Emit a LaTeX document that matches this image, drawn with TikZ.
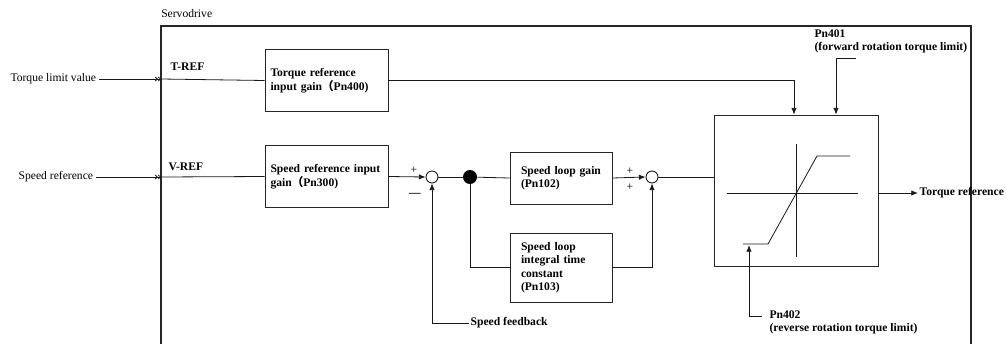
\documentclass[tikz,border=0pt]{standalone}
\usepackage{fontspec}
\setmainfont{Liberation Serif}
\newfontfamily\cjk{Noto Sans CJK SC}
\usetikzlibrary{arrows.meta,calc}

\begin{document}
\begin{tikzpicture}[
        x=0.75pt, y=-0.75pt,
        font=\fontsize{8.7}{10.1}\selectfont,
        box/.style={
            draw=black!85,
            line width=0.6pt,
            align=left,
            font=\fontsize{8.7}{10.1}\selectfont\bfseries
        },
        widebox/.style={box, text width=84pt, inner xsep=4.1pt, minimum height=46pt},
        narrowbox/.style={box, text width=60pt, inner xsep=8.25pt},
        sum/.style={draw, circle, minimum size=9pt, inner sep=0pt, line width=0.6pt},
        tag/.style={font=\fontsize{8.7}{10.1}\selectfont\bfseries, inner sep=1pt},
        link/.style={line width=0.6pt, black!90},
        arrow/.style={link, -{Latex[length=5pt,width=4pt]}},
        entry/.style={link, -{Straight Barb[length=1.6pt,width=3pt]Straight Barb[length=1.6pt,width=3pt]}},
        frame/.style={line width=1.1pt, black!85}
    ]

    \useasboundingbox (0,0) rectangle (1006,343);

    % servodrive frame
    \node[anchor=west, inner sep=0pt] (servo) at (161,14) {Servodrive};
    \draw[frame] (161,360) -- (161,26) -- (971,26) -- (971,360);

    % torque limit path
    \node[anchor=east, inner sep=2pt] (tlim) at (99,79) {Torque limit value};
    \coordinate (tin) at (161,79);
    \node[tag, anchor=west] (tref) at (169,67) {T-REF};
    \node[widebox] (tgain) at (326.5,80.5) {Torque reference\\input gain{\cjk （}Pn400)};

    % speed reference path
    \node[anchor=east, inner sep=2pt] (sin) at (96,177) {Speed reference};
    \coordinate (vin) at (161,177);
    \node[tag, anchor=west] (vref) at (167,167) {V-REF};
    \node[widebox] (sgain) at (326.5,176.5) {Speed reference input\\gain{\cjk （}Pn300)};

    \node[sum] (sum1) at (432,177) {};
    \node[inner sep=0pt] (plus1) at (414,170) {+};
    \node[tag] (minus1) at (415,195) {—};
    \node[circle, fill=black, minimum size=10.5pt, inner sep=0pt] (split) at (470,177) {};

    \node[narrowbox, minimum height=39pt] (kp) at (561,178) {Speed loop gain\\(Pn102)};
    \node[narrowbox, minimum height=51.75pt] (ki) at (561,267.5) {Speed loop\\integral time\\constant\\(Pn103)};

    \node[sum] (sum2) at (652,177) {};
    \node[inner sep=0pt] (plus2) at (630,171) {+};
    \node[inner sep=0pt] (plus3) at (630,187) {+};

    % torque limiter
    \node[draw=black!85, line width=0.6pt, minimum width=123pt, minimum height=113.25pt, inner sep=0pt] (lim) at (796,190.5) {};
    \draw[link] (796,144) -- (796,257);
    \draw[link] (727,193) -- (858,193);
    \draw[link] (743,244) -- (768,244) -- (817,156) -- (850,156);

    \node[tag, anchor=west, align=left] (fwd) at (813,41.5) {Pn401\\(forward rotation torque limit)};
    \coordinate (p401) at (856,58);
    \node[tag, anchor=west, align=left] (rev) at (768,322.5) {Pn402\\(reverse rotation torque limit)};
    \coordinate (p402) at (762,316);
    \coordinate (lowsat) at (749,245);

    \node[tag, anchor=west] (fb) at (469,323) {Speed feedback};
    \node[tag, anchor=west] (tout) at (918,193) {Torque reference};

    % connectors
    \draw[entry] (tlim.east) -- (tin);
    \draw[link] (tin) -- (tgain.west);
    \draw[entry] (sin.east) -- (vin);
    \draw[link] (vin) -- (sgain.west);

    \draw[arrow] (tgain.east) -| ([xshift=-1.5pt]lim.north);
    \draw[arrow] (p401) -| ([xshift=30pt]lim.north);
    \draw[arrow] (p402) -| (lowsat);

    \draw[arrow] (sgain.east) -- (sum1.west);
    \draw[arrow] (fb.west) -| (sum1.south);
    \draw[link] (sum1.east) -- (split);
    \draw[link] (split) -- (kp.west);
    \draw[link] (split) |- (ki.west);
    \draw[arrow] (kp.east) -- (sum2.west);
    \draw[arrow] (ki.east) -| (sum2.south);
    \draw[link] (sum2.east) -- (sum2 -| lim.west);
    \draw[arrow] (lim.east |- tout) -- (tout.west);

    \end{tikzpicture}
\end{document}
